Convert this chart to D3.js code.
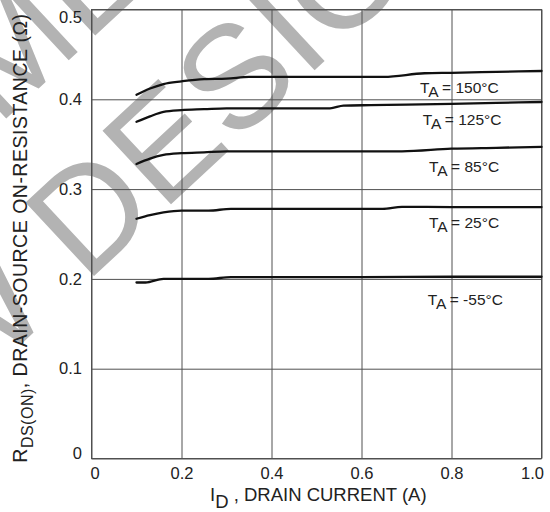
<!DOCTYPE html>
<html>
<head>
<meta charset="utf-8">
<script src="https://cdn.jsdelivr.net/npm/d3@7"></script>
<style>
  html, body { margin: 0; padding: 0; background: #fff; }
  svg { display: block; }
  text { font-family: "Liberation Sans", Arial, Helvetica, sans-serif; fill: #222; }
</style>
</head>
<body>
<svg id="chart" width="550" height="512"></svg>
<script>
// R_DS(on) versus drain current, one curve per ambient temperature
const temps = ["150", "125", "85", "25", "-55"];

const curve150 = [[0.10,0.405],[0.13,0.412],[0.16,0.417],[0.20,0.420],[0.25,0.4225],[0.30,0.423],[0.35,0.425],[0.45,0.425],[0.55,0.425],[0.65,0.425],[0.74,0.429],[0.80,0.4295],[0.90,0.4305],[1.00,0.4315]];
const curve125 = [[0.10,0.375],[0.13,0.381],[0.16,0.386],[0.20,0.388],[0.25,0.389],[0.30,0.390],[0.40,0.390],[0.53,0.390],[0.56,0.393],[0.62,0.3935],[0.70,0.394],[0.80,0.395],[0.90,0.396],[1.00,0.397]];
const curve85  = [[0.10,0.328],[0.13,0.334],[0.16,0.338],[0.20,0.340],[0.25,0.341],[0.30,0.342],[0.40,0.342],[0.50,0.342],[0.60,0.342],[0.69,0.342],[0.80,0.345],[0.90,0.346],[1.00,0.347]];
const curve25  = [[0.10,0.267],[0.13,0.271],[0.16,0.274],[0.20,0.276],[0.26,0.276],[0.31,0.278],[0.40,0.278],[0.50,0.278],[0.647,0.278],[0.69,0.2803],[0.80,0.280],[0.90,0.280],[1.00,0.280]];
const curveM55 = [[0.10,0.196],[0.12,0.196],[0.16,0.200],[0.20,0.200],[0.26,0.200],[0.31,0.202],[0.40,0.202],[0.60,0.202],[0.80,0.2024],[1.00,0.2024]];
const curves = [curve150, curve125, curve85, curve25, curveM55];

// label anchor for each curve, in axis units (current, resistance)
const labelAt = [[0.730,0.4074],[0.736,0.3714],[0.750,0.3194],[0.750,0.2563],[0.747,0.1706]];

const xTicks = [0, 0.2, 0.4, 0.6, 0.8, 1.0];
const xTickLabels = ["0", "0.2", "0.4", "0.6", "0.8", "1.0"];
const yTicks = [0, 0.1, 0.2, 0.3, 0.4, 0.5];
const yTickLabels = ["0", "0.1", "0.2", "0.3", "0.4", "0.5"];

const svg = d3.select("#chart");
const plotLeft = 91.5, plotRight = 541.5, plotTop = 9.5, plotBottom = 458.5;

const x = d3.scaleLinear().domain([0, 1]).range([plotLeft, plotRight]);
const y = d3.scaleLinear().domain([0, 0.5]).range([plotBottom, plotTop]);

// stamp printed across the sheet, behind the graph
const stampColor = "#b3b3b3";
const stamp = svg.append("g")
  .attr("transform", "translate(85,284.5) rotate(-43)")
  .style("font-size", "146px");
stamp.append("text").attr("x", 89.5).attr("y", 0).style("fill", stampColor)
  .attr("text-anchor", "middle").text("NEW DESIGN");
stamp.append("text").attr("x", 89.5).attr("y", -175).style("fill", stampColor)
  .attr("text-anchor", "middle").text("NOT RECOMMENDED FOR");

// grid
const gridColor = "#505050";
const xAxis = svg.append("g")
  .attr("transform", `translate(0,${plotBottom})`)
  .call(d3.axisBottom(x).tickValues(xTicks).tickSize(-(plotBottom - plotTop)).tickPadding(9)
        .tickFormat((d, i) => xTickLabels[i]));
const yAxis = svg.append("g")
  .attr("transform", `translate(${plotLeft},0)`)
  .call(d3.axisLeft(y).tickValues(yTicks).tickSize(-(plotRight - plotLeft)).tickPadding(9.5)
        .tickFormat((d, i) => yTickLabels[i]));

[xAxis, yAxis].forEach(g => {
  g.attr("font-family", null).attr("font-size", null);
  g.select(".domain").remove();
  g.selectAll(".tick line").attr("stroke", gridColor).attr("stroke-width", 1);
  g.selectAll(".tick text").style("font-size", "16.5px").style("fill", "#222");
});
xAxis.selectAll(".tick text").attr("dy", "0.71em").attr("y", 8.5);
xAxis.selectAll(".tick text").filter((d, i) => i === 0).attr("text-anchor", "start").attr("dx", -1.5);
xAxis.selectAll(".tick text").filter((d, i) => i === xTicks.length - 1).attr("text-anchor", "end").attr("dx", 2);
yAxis.selectAll(".tick text").filter(d => d === 0.5).attr("transform", "translate(0,8)");
yAxis.selectAll(".tick text").filter(d => d === 0).attr("transform", "translate(0,-5.5)");

svg.append("rect")
  .attr("x", plotLeft).attr("y", plotTop)
  .attr("width", plotRight - plotLeft).attr("height", plotBottom - plotTop)
  .attr("fill", "none").attr("stroke", gridColor).attr("stroke-width", 1);

// curves
const line = d3.line().x(d => x(d[0])).y(d => y(d[1])).curve(d3.curveMonotoneX);
svg.append("g").selectAll("path").data(curves).join("path")
  .attr("d", line)
  .attr("fill", "none").attr("stroke", "#111").attr("stroke-width", 2.3)
  .attr("stroke-linecap", "round");

// temperature labels
const lab = svg.append("g").style("font-size", "15.5px");
temps.forEach((t, i) => {
  const txt = lab.append("text").attr("x", x(labelAt[i][0])).attr("y", y(labelAt[i][1]));
  txt.append("tspan").text("T");
  txt.append("tspan").attr("dy", 4).text("A");
  txt.append("tspan").attr("dy", -4).text(` = ${t}°C`);
});

// axis titles
const xt = svg.append("text").attr("x", 210).attr("y", 500.7).style("font-size", "18.5px");
xt.append("tspan").text("I");
xt.append("tspan").attr("dy", 7.6).text("D");
xt.append("tspan").attr("dy", -7.6).text(" , DRAIN CURRENT (A)");

const yt = svg.append("text").attr("transform", "translate(26.7,462.7) rotate(-90)")
  .style("font-size", "19.5px").style("letter-spacing", "0.5px");
yt.append("tspan").text("R");
yt.append("tspan").attr("dy", 6.3).style("font-size", "16px").text("DS(ON)");
yt.append("tspan").attr("dy", -6.3).text(", DRAIN-SOURCE ON-RESISTANCE (Ω)");
</script>
</body>
</html>
